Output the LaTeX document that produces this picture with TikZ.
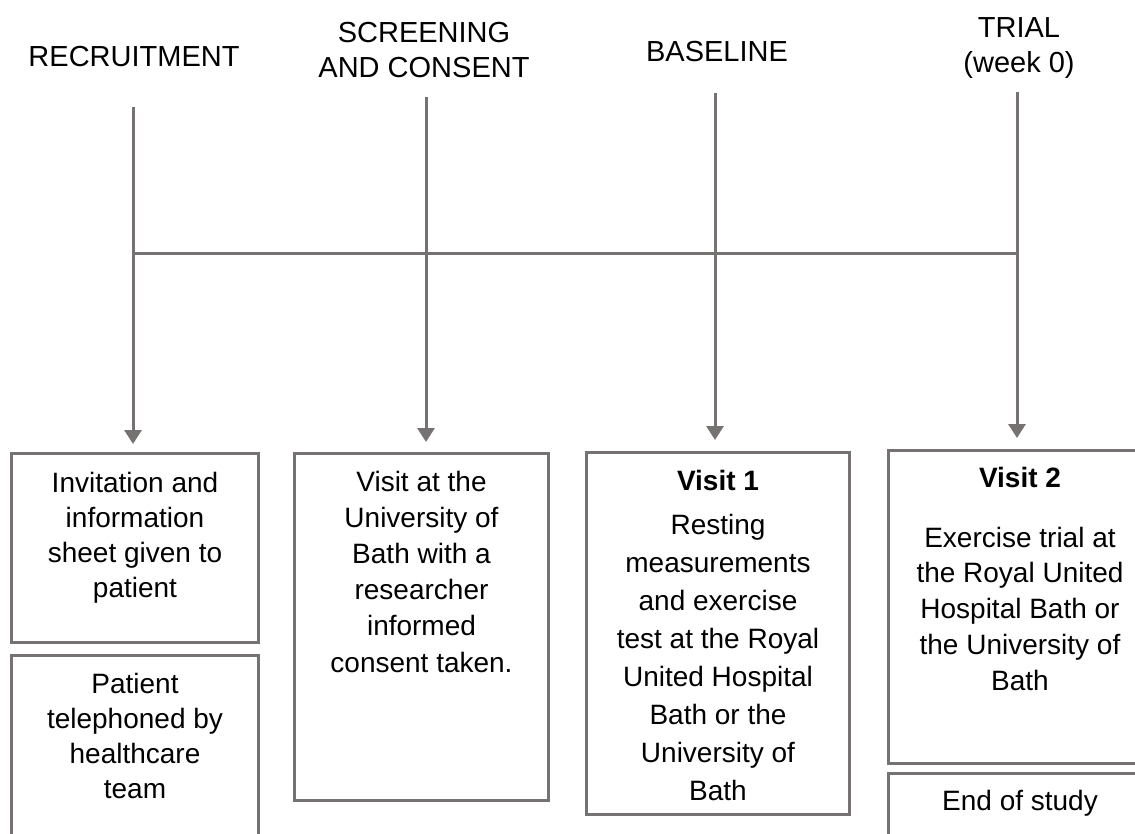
\documentclass[tikz,border=0pt]{standalone}
\usepackage{fontspec}
\setmainfont{Liberation Sans}
\usetikzlibrary{arrows.meta}
\definecolor{lineg}{RGB}{118,114,114}
\tikzset{
  hdr/.style={font=\fontsize{29}{35}\selectfont, align=center, inner sep=0pt, anchor=base},
  txt/.style={font=\fontsize{28}{36}\selectfont, align=center, inner sep=0pt, anchor=base},
  boxs/.style={draw=lineg, line width=3pt, inner sep=0pt},
  conn/.style={draw=lineg, line width=3pt},
  arr/.style={conn, -{Triangle[length=14pt,width=17pt]}}
}
\begin{document}
\begin{tikzpicture}[x=1pt,y=-1pt]
\useasboundingbox (0,0) rectangle (1135,833);
\clip (0,0) rectangle (1135,833);
% headers (anchor = baseline of the last line)
\node[hdr] (h1) at (134,66) {RECRUITMENT};
\node[hdr] (h2) at (424,77) {SCREENING\\AND CONSENT};
\node[hdr] (h3) at (717,61) {BASELINE};
\node[hdr] (h4) at (1019,72) {TRIAL\\(week 0)};
% connector points
\coordinate (t1) at (133,107);
\coordinate (t2) at (426,97);
\coordinate (t3) at (715,93);
\coordinate (t4) at (1017,92);
\coordinate (j1) at (133,253);
\coordinate (j4) at (1017,253);
\coordinate (e1) at (133,444);
\coordinate (e2) at (426,442);
\coordinate (e3) at (715,440);
\coordinate (e4) at (1017,438);
\draw[conn] (j1) -- (j4);
\draw[arr] (t1) -- (e1);
\draw[arr] (t2) -- (e2);
\draw[arr] (t3) -- (e3);
\draw[arr] (t4) -- (e4);
% boxes
\node[boxs, minimum width=247pt, minimum height=189pt, anchor=north west] (b1) at (10,452) {};
\node[boxs, minimum width=247pt, minimum height=200pt, anchor=north west] (b1b) at (10,654) {};
\node[boxs, minimum width=254pt, minimum height=347pt, anchor=north west] (b2) at (293,452) {};
\node[boxs, minimum width=263pt, minimum height=362pt, anchor=north west] (b3) at (585,451) {};
\node[boxs, minimum width=264pt, minimum height=313pt, anchor=north west] (b4) at (887,449) {};
\node[boxs, minimum width=264pt, minimum height=100pt, anchor=north west] (b4b) at (887,772) {};
% texts (anchor = baseline of the last line)
\node[txt, font=\fontsize{28}{35}\selectfont] (x1) at ([yshift=-145pt]b1.north) {Invitation and\\information\\sheet given to\\patient};
\node[txt, font=\fontsize{28}{35}\selectfont] (x1b) at ([yshift=-144pt]b1b.north) {Patient\\telephoned by\\healthcare\\team};
\node[txt, font=\fontsize{28}{36.2}\selectfont] (x2) at ([yshift=-220pt]b2.north) {Visit at the\\University of\\Bath with a\\researcher\\informed\\consent taken.};
\node[txt, font=\fontsize{28}{38}\selectfont] (x3) at ([yshift=-349pt]b3.north) {\textbf{Visit 1}\\[6pt]Resting\\measurements\\and exercise\\test at the Royal\\United Hospital\\Bath or the\\University of\\Bath};
\node[txt, font=\fontsize{28}{35.75}\selectfont] (x4) at ([xshift=-0.5pt,yshift=-241pt]b4.north) {\textbf{Visit 2}\\[24pt]Exercise trial at\\the Royal United\\Hospital Bath or\\the University of\\Bath};
\node[txt] (x4b) at ([xshift=-0.5pt,yshift=-38pt]b4b.north) {End of study};
\end{tikzpicture}
\end{document}
